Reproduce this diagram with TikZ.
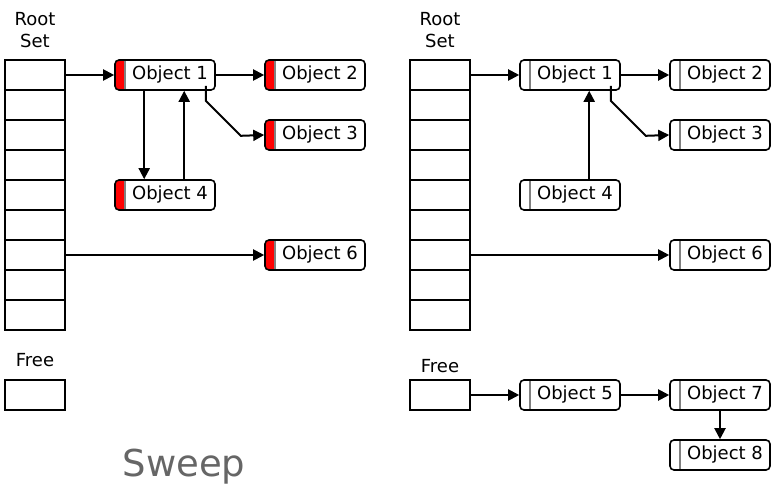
\documentclass[tikz,border=0pt]{standalone}
\usepackage{fontspec}
\setmainfont{DejaVu Sans}
\usetikzlibrary{arrows.meta}
\definecolor{titlegray}{HTML}{666666}

\begin{document}
\begin{tikzpicture}[
      x=1pt, y=-1pt,
      every node/.style={font=\fontsize{18}{22}\selectfont},
      cell/.style={draw, line width=2pt, minimum width=60pt,
        minimum height=30pt, inner sep=0pt},
      obj/.style={draw, line width=1.6pt, rounded corners=4pt,
        minimum width=100pt, minimum height=30pt, inner sep=0pt,
        execute at begin node={\hspace*{10pt}},
        path picture={
          \fill[#1] (path picture bounding box.north west)
            rectangle ([xshift=10pt]path picture bounding box.south west);
          \draw[gray, line width=1.6pt]
            ([xshift=10pt]path picture bounding box.north west)
            -- ([xshift=10pt]path picture bounding box.south west);
        }},
      obj/.default=white,
      arrow/.style={-{Triangle[length=11pt, width=11pt]}, line width=2pt},
      label/.style={align=center},
    ]
    \useasboundingbox (0,0) rectangle (778,500);

    % Root set columns
    \foreach \i in {0,...,8} {
      \node[cell] (lroot\i) at (35, 75+30*\i) {};
      \node[cell] (rroot\i) at (440, 75+30*\i) {};
    }
    \node[label] (lrootlbl) at (35, 30) {Root\\Set};
    \node[label] (rrootlbl) at (440, 30) {Root\\Set};

    % Free lists
    \node[label] (lfreelbl) at (35, 360) {Free};
    \node[label] (rfreelbl) at (440, 366) {Free};
    \node[cell] (lfree) at (35, 395) {};
    \node[cell] (rfree) at (440, 395) {};

    % Marked heap (left)
    \node[obj=red] (lo1) at (165, 75)  {Object 1};
    \node[obj=red] (lo2) at (315, 75)  {Object 2};
    \node[obj=red] (lo3) at (315, 135) {Object 3};
    \node[obj=red] (lo4) at (165, 195) {Object 4};
    \node[obj=red] (lo6) at (315, 255) {Object 6};

    % Swept heap (right)
    \node[obj] (ro1) at (570, 75)  {Object 1};
    \node[obj] (ro2) at (720, 75)  {Object 2};
    \node[obj] (ro3) at (720, 135) {Object 3};
    \node[obj] (ro4) at (570, 195) {Object 4};
    \node[obj] (ro6) at (720, 255) {Object 6};
    \node[obj] (ro5) at (570, 395) {Object 5};
    \node[obj] (ro7) at (720, 395) {Object 7};
    \node[obj] (ro8) at (720, 455) {Object 8};

    % Left references
    \draw[arrow] (lroot0.east) -- (lo1.west);
    \draw[arrow] (lo1) -- (lo2);
    \draw[arrow] ([xshift=-10pt, yshift=5pt]lo1.south east) -- ++(0, 15)
      -- ++(35, 35) -- (lo3.west);
    \draw[arrow] ([xshift=30pt]lo1.south west) -- ([xshift=30pt]lo4.north west);
    \draw[arrow] ([xshift=70pt]lo4.north west) -- ([xshift=70pt]lo1.south west);
    \draw[arrow] (lroot6.east) -- (lo6.west);

    % Right references
    \draw[arrow] (rroot0.east) -- (ro1.west);
    \draw[arrow] (ro1) -- (ro2);
    \draw[arrow] ([xshift=-10pt, yshift=5pt]ro1.south east) -- ++(0, 15)
      -- ++(35, 35) -- (ro3.west);
    \draw[arrow] ([xshift=70pt]ro4.north west) -- ([xshift=70pt]ro1.south west);
    \draw[arrow] (rroot6.east) -- (ro6.west);

    % Free chain
    \draw[arrow] (rfree.east) -- (ro5.west);
    \draw[arrow] (ro5) -- (ro7);
    \draw[arrow] (ro7) -- (ro8);

    \node[text=titlegray, font=\fontsize{37}{44}\selectfont] (title) at (184, 467) {Sweep};
  \end{tikzpicture}
\end{document}
